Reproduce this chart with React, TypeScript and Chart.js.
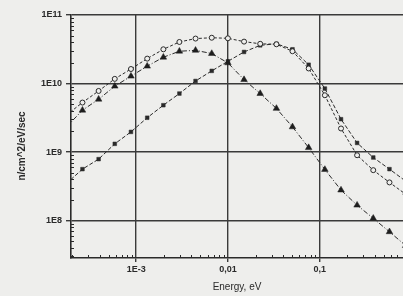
import React, { useEffect, useRef } from 'react';
import { Chart, registerables } from 'chart.js';
Chart.register(...registerables);

// Energy grid, eV
const energies = [1.73e-4, 2.6e-4, 3.9e-4, 5.85e-4, 8.78e-4, 1.32e-3, 1.98e-3, 2.96e-3, 4.44e-3, 6.67e-3, 0.01, 0.015, 0.0225, 0.0338, 0.0506, 0.0759, 0.114, 0.171, 0.256, 0.384, 0.577, 0.865];
// Flux, n/cm^2/eV/sec
const circleFlux = [3.45e9, 5.28e9, 7.8e9, 1.17e10, 1.63e10, 2.31e10, 3.16e10, 4.04e10, 4.53e10, 4.66e10, 4.57e10, 4.09e10, 3.8e10, 3.74e10, 2.96e10, 1.66e10, 6.75e9, 2.21e9, 9.0e8, 5.45e8, 3.61e8, 2.43e8];
const triangleFlux = [2.31e9, 4.08e9, 5.9e9, 9.14e9, 1.28e10, 1.79e10, 2.42e10, 2.96e10, 3.05e10, 2.74e10, 2.0e10, 1.14e10, 7.14e9, 4.33e9, 2.33e9, 1.16e9, 5.57e8, 2.79e8, 1.68e8, 1.08e8, 6.87e7, 4.33e7];
const squareFlux = [3.46e8, 5.64e8, 7.89e8, 1.32e9, 1.97e9, 3.17e9, 4.83e9, 7.14e9, 1.09e10, 1.53e10, 2.11e10, 2.89e10, 3.61e10, 3.8e10, 3.16e10, 1.88e10, 8.45e9, 3.02e9, 1.36e9, 8.34e8, 5.64e8, 3.77e8];

const xTickValues = [0.001, 0.01, 0.1];
const xTickLabels = ['1E-3', '0,01', '0,1'];
const yTickValues = [1e8, 1e9, 1e10, 1e11];
const yTickLabels = ['1E8', '1E9', '1E10', '1E11'];
const xTitle = 'Energy, eV';
const yTitle = 'n/cm^2/eV/sec';

const BG = '#eeeeec';
const INK = '#2a2a2a';
const FONT = "'Liberation Sans', Arial, sans-serif";

const toPoints = (ys: number[]) => energies.map((x, i) => ({ x, y: ys[i] }));

const decorPlugin = {
  id: 'decor',
  beforeDraw(chart: any) {
    const ctx = chart.ctx;
    ctx.save();
    ctx.fillStyle = BG;
    ctx.fillRect(0, 0, chart.width, chart.height);
    ctx.restore();
  },
  afterDraw(chart: any) {
    const ctx = chart.ctx;
    const { left, bottom } = chart.chartArea;
    const xs = chart.scales.x;
    const ys = chart.scales.y;
    ctx.save();
    ctx.strokeStyle = INK;
    ctx.lineWidth = 1;
    ctx.beginPath();
    for (let d = -5; d <= 1; d++) {
      for (let m = 2; m <= 9; m++) {
        const v = m * Math.pow(10, d);
        if (v < xs.min || v > xs.max) continue;
        const px = Math.round(xs.getPixelForValue(v)) + 0.5;
        ctx.moveTo(px, bottom);
        ctx.lineTo(px, bottom - 3);
      }
    }
    for (let d = 6; d <= 11; d++) {
      for (let m = 2; m <= 9; m++) {
        const v = m * Math.pow(10, d);
        if (v < ys.min || v > ys.max) continue;
        const py = Math.round(ys.getPixelForValue(v)) + 0.5;
        ctx.moveTo(left, py);
        ctx.lineTo(left + 3, py);
      }
    }
    ctx.stroke();
    // y title
    ctx.fillStyle = INK;
    ctx.font = `bold 10px ${FONT}`;
    ctx.textAlign = 'center';
    ctx.textBaseline = 'middle';
    ctx.translate(22, 146);
    ctx.rotate(-Math.PI / 2);
    ctx.fillText(yTitle, 0, 0);
    ctx.restore();
  },
};

export default function App() {
  const ref = useRef<HTMLCanvasElement | null>(null);
  useEffect(() => {
    if (!ref.current) return;
    const chart = new Chart(ref.current, {
      type: 'line',
      data: {
        datasets: [
          {
            data: toPoints(circleFlux),
            borderColor: INK,
            borderWidth: 1,
            borderDash: [3, 2],
            pointStyle: 'circle',
            pointRadius: 2.5,
            pointBackgroundColor: BG,
            pointBorderColor: INK,
            pointBorderWidth: 1,
            tension: 0,
            clip: 0,
          },
          {
            data: toPoints(triangleFlux),
            borderColor: INK,
            borderWidth: 1,
            borderDash: [5, 2, 1, 2],
            pointStyle: 'triangle',
            pointRadius: 3.8,
            pointBackgroundColor: '#1e1e1e',
            pointBorderColor: '#1e1e1e',
            pointBorderWidth: 0.5,
            tension: 0,
            clip: 0,
          },
          {
            data: toPoints(squareFlux),
            borderColor: INK,
            borderWidth: 1,
            borderDash: [4, 2],
            pointStyle: 'rect',
            pointRadius: 2.6,
            pointBackgroundColor: '#2a2a2a',
            pointBorderColor: '#2a2a2a',
            pointBorderWidth: 0.5,
            tension: 0,
            clip: 0,
          },
        ],
      } as any,
      options: {
        responsive: false,
        animation: false,
        events: [],
        layout: { autoPadding: false, padding: { left: 0, top: 15, right: 0, bottom: 0 } },
        plugins: { legend: { display: false }, tooltip: { enabled: false } },
        scales: {
          x: {
            type: 'logarithmic',
            min: 1.95e-4,
            max: 0.81,
            afterFit: (s: any) => { s.height = 38; s.paddingLeft = 0; s.paddingRight = 0; },
            afterBuildTicks: (s: any) => { s.ticks = xTickValues.map((v) => ({ value: v })); },
            grid: { color: '#3a3a3a', lineWidth: 1.4, tickLength: 4, drawTicks: true },
            border: { display: true, color: INK, width: 1.6 },
            ticks: {
              autoSkip: false,
              maxRotation: 0,
              padding: 2,
              color: INK,
              font: { family: FONT, size: 9, weight: 'bold' },
              callback: (v: any) => {
                const i = xTickValues.findIndex((t) => Math.abs(t - v) / t < 1e-6);
                return i >= 0 ? xTickLabels[i] : '';
              },
            },
            title: { display: true, text: xTitle, color: INK, font: { family: FONT, size: 10 }, padding: { top: 0, bottom: 3 } },
          },
          y: {
            type: 'logarithmic',
            min: 2.85e7,
            max: 1e11,
            afterFit: (s: any) => { s.width = 71; },
            afterBuildTicks: (s: any) => { s.ticks = yTickValues.map((v) => ({ value: v })); },
            grid: { color: '#3a3a3a', lineWidth: 1.4, tickLength: 5, drawTicks: true },
            border: { display: true, color: INK, width: 1.6 },
            ticks: {
              autoSkip: false,
              padding: 4,
              color: INK,
              font: { family: FONT, size: 9, weight: 'bold' },
              callback: (v: any) => {
                const i = yTickValues.findIndex((t) => Math.abs(t - v) / t < 1e-6);
                return i >= 0 ? yTickLabels[i] : '';
              },
            },
          },
        },
      } as any,
      plugins: [decorPlugin],
    });
    return () => chart.destroy();
  }, []);
  return (
    <div style={{ position: 'absolute', left: 0, top: 0, width: 403, height: 296, overflow: 'hidden', background: BG }}>
      <canvas ref={ref} width={403} height={296} style={{ display: 'block' }} />
    </div>
  );
}
